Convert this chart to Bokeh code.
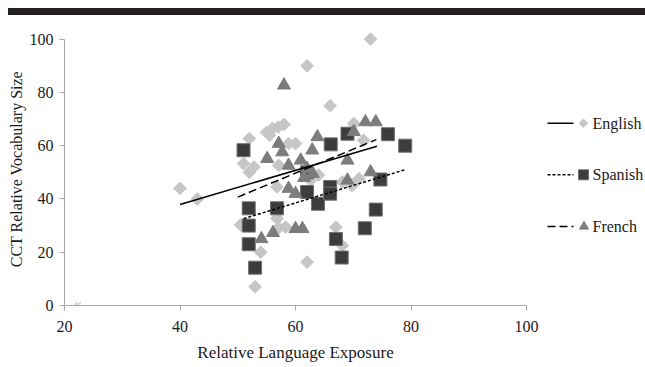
import numpy as np
from bokeh.plotting import figure
from bokeh.models import Range1d, FixedTicker, Div, Arrow
from bokeh.layouts import row, column
from bokeh.embed import file_html
from bokeh.resources import INLINE
from bokeh.core.properties import value

# ---------------- data ----------------
eng_x = [40, 43, 50.5, 51, 52, 52.8, 52, 53, 54, 55, 55.5, 56, 57, 58, 56.8, 57.1,
         57.1, 58.3, 56.8, 58.8, 60, 62, 62, 62.6, 64, 66, 67, 68.1, 68.1, 70.1,
         69.8, 71, 71.8, 73]
eng_y = [44, 40, 30.3, 53.3, 50, 52, 62.7, 7, 20, 65, 64, 66.5, 67, 68, 44.5, 52.6,
         29.2, 29.4, 32.7, 60.8, 60.8, 90, 16.3, 47, 49, 75, 29.4, 22.5, 46.4, 68.3,
         45, 47.6, 62, 100]

spa_x = [51, 51.9, 51.9, 51.9, 53, 56.8, 62, 62, 63.9, 66, 66, 66.1, 67, 68, 69,
         72, 73.9, 74.7, 76, 79]
spa_y = [58.3, 36.5, 30, 23, 14.2, 36.5, 42.6, 50, 38.2, 44.5, 42, 60.5, 25, 18,
         64.5, 29, 36, 47.3, 64.3, 60]

fre_x = [58, 57.1, 57.7, 55.1, 58.8, 60.9, 62, 63, 62.9, 63.8, 69, 70.1, 72.1, 73.9,
         73, 69, 58.8, 60, 54.1, 56.1, 60, 61.2, 61.5]
fre_y = [82.7, 60.8, 57.6, 55.1, 52.6, 54.5, 51.4, 49.5, 58.3, 63.3, 54.5, 65.2,
         68.9, 68.9, 50.1, 47, 43.9, 42, 25, 27.3, 28.8, 28.8, 48]

# trend lines (end points)
eng_fit_x = [40, 74.1]
eng_fit_y = [37.9, 59.8]
spa_fit_x = [51, 79]
spa_fit_y = [32.6, 51]
fre_fit_x = [50, 74]
fre_fit_y = [40.7, 62.3]

x_ticks = [20, 40, 60, 80, 100]
y_ticks = [0, 20, 40, 60, 80, 100]
series_names = ["English", "Spanish", "French"]

# ---------------- styles ----------------
FONT = "Liberation Serif"
AXIS_GRAY = "#a8a8a8"
ENG_COL = "#c6c6c6"
SPA_COL = "#3c3c3c"
SPA_EDGE = "#707070"
FRE_COL = "#7c7c7c"

BORDER_TOP = 17
BORDER_BOTTOM = 62
FIG_H = 352

# ---------------- main plot ----------------
p = figure(width=537, height=FIG_H, output_backend="svg", toolbar_location=None,
           x_range=Range1d(20, 100), y_range=Range1d(0, 102.5),
           min_border_left=62, min_border_right=13, min_border_top=BORDER_TOP,
           min_border_bottom=BORDER_BOTTOM)
p.grid.visible = False
p.outline_line_color = None
p.background_fill_color = "white"
p.border_fill_color = "white"

p.xaxis.ticker = FixedTicker(ticks=x_ticks)
p.yaxis.ticker = FixedTicker(ticks=y_ticks)
p.yaxis.bounds = (0, 100)
p.xaxis.minor_tick_line_color = None
p.yaxis.minor_tick_line_color = None
for ax in (p.xaxis[0], p.yaxis[0]):
    ax.axis_line_color = AXIS_GRAY
    ax.major_tick_line_color = AXIS_GRAY
    ax.major_tick_in = 0
    ax.major_tick_out = 5
    ax.major_label_text_font = FONT
    ax.major_label_text_font_size = "16px"
    ax.major_label_text_color = "#1a1a1a"
    ax.axis_label_text_font = FONT
    ax.axis_label_text_font_size = "17px"
    ax.axis_label_text_font_style = "normal"
    ax.axis_label_text_color = "#1a1a1a"
p.xaxis.axis_label = "Relative Language Exposure"
p.yaxis.axis_label = "CCT Relative Vocabulary Size"
p.yaxis.axis_label_text_font_size = "16px"
p.xaxis.major_label_standoff = 10
p.xaxis.axis_label_standoff = 8
p.yaxis.major_label_standoff = 6
p.yaxis.axis_label_standoff = 2

p.scatter(eng_x, eng_y, marker="square", angle=np.pi / 4, size=9,
          fill_color=ENG_COL, line_color=ENG_COL)
p.scatter(spa_x, spa_y, marker="square", size=13,
          fill_color=SPA_COL, line_color=SPA_EDGE, line_width=1)
p.scatter(fre_x, fre_y, marker="triangle", size=13,
          fill_color=FRE_COL, line_color=FRE_COL)

p.line(eng_fit_x, eng_fit_y, line_color="black", line_width=1.5)
p.line(spa_fit_x, spa_fit_y, line_color="black", line_width=1.5, line_dash="3 2")
p.line(fre_fit_x, fre_fit_y, line_color="black", line_width=1.5, line_dash="8 4")

# axis break mark near the origin
for dx in (0.0, 0.55):
    p.add_layout(Arrow(end=None, x_start=20.15 + dx, y_start=-2.8,
                       x_end=22.3 + dx, y_end=1.2,
                       line_color=AXIS_GRAY, line_width=1))

# ---------------- legend (separate panel on the right) ----------------
# the legend panel's frame is aligned with the main frame; its y values are
# expressed in page pixels (top of frame = 32, bottom = 305)
leg = figure(width=106, height=FIG_H, output_backend="svg", toolbar_location=None,
             x_range=Range1d(0, 106), y_range=Range1d(305, 32),
             x_axis_location=None, y_axis_location=None,
             min_border_left=0, min_border_right=0, min_border_top=BORDER_TOP,
             min_border_bottom=BORDER_BOTTOM)
leg.grid.visible = False
leg.outline_line_color = None

row_y = [122.7, 174.3, 226]
line_x0, line_x1, mark_x, text_x = 8, 34, 44, 53
dashes = ["solid", "3 2", "8 4"]
for yy, dash in zip(row_y, dashes):
    leg.line([line_x0, line_x1], [yy, yy], line_color="black", line_width=1.5,
             line_dash=dash)
leg.scatter([mark_x], [row_y[0]], marker="square", angle=np.pi / 4, size=6,
            fill_color=ENG_COL, line_color=ENG_COL)
leg.scatter([mark_x], [row_y[1]], marker="square", size=10,
            fill_color=SPA_COL, line_color=SPA_EDGE)
leg.scatter([mark_x + 0.5], [row_y[2]], marker="triangle", size=9,
            fill_color=FRE_COL, line_color=FRE_COL)
leg.text([text_x] * 3, row_y, text=series_names, text_baseline="middle",
         text_align="left", text_font=value(FONT), text_font_size="16px",
         text_color="#1a1a1a")

band = Div(text="", width=637, height=7, margin=(0, 0, 0, 6),
           styles={"background-color": "#231f20"})

layout = column(band, row(p, leg, spacing=0), spacing=0, margin=(8, 0, 0, 2))

open("out.html", "w").write(file_html(layout, INLINE))
